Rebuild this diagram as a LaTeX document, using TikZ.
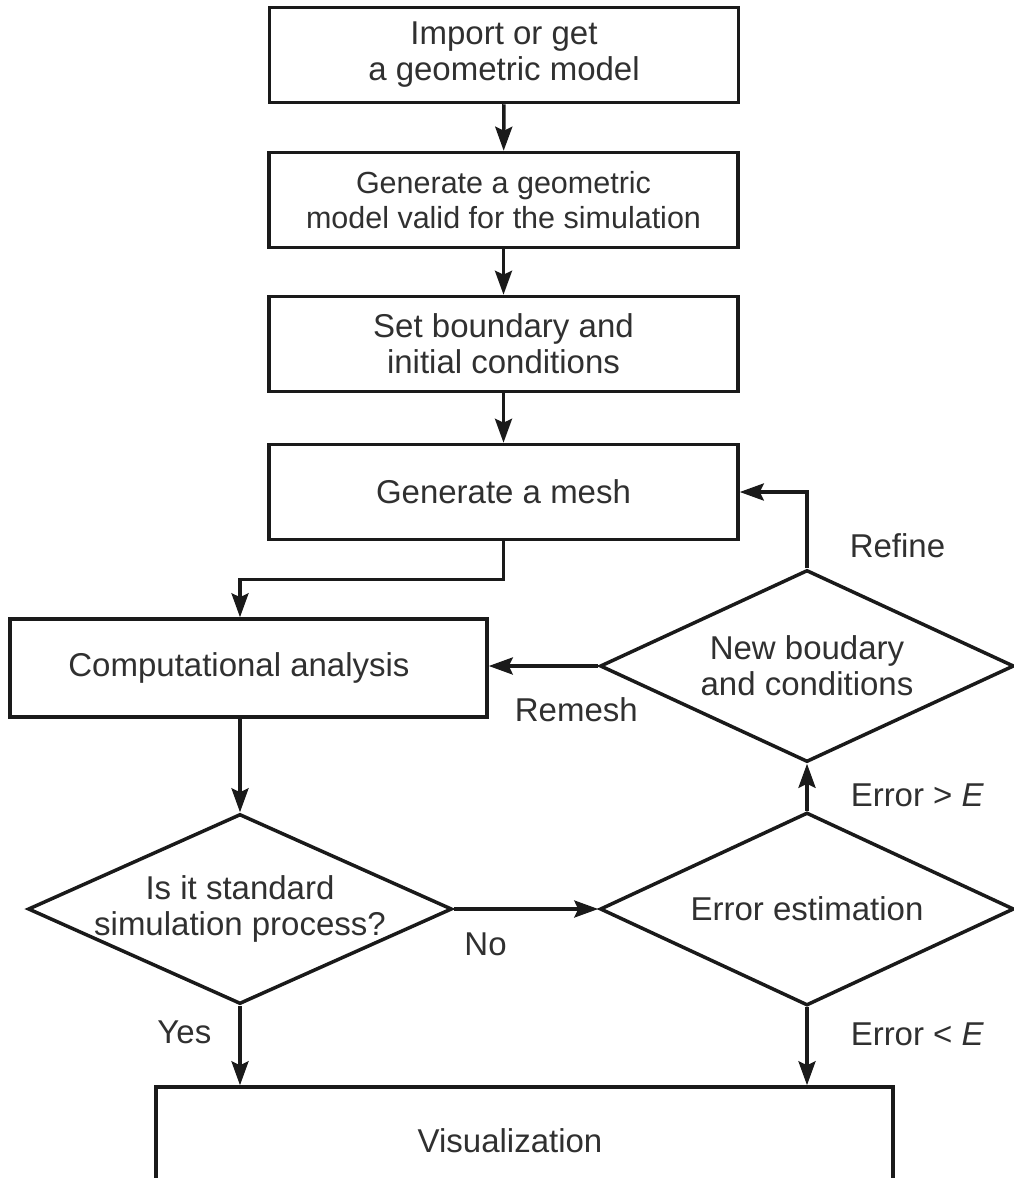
\documentclass[tikz,border=0pt]{standalone}
\usepackage{fontspec}
\setmainfont{Liberation Sans}
\usetikzlibrary{shapes.geometric,arrows.meta}
\definecolor{ln}{HTML}{1A1A1A}
\definecolor{txt}{HTML}{303030}
\begin{document}
\begin{tikzpicture}[x=1pt,y=-1pt,
  box/.style={draw=ln,line width=3.5pt,minimum width=469pt,minimum height=95pt,inner sep=0pt,align=center,text=txt,font=\fontsize{33}{36}\selectfont},
  dia/.style={draw=ln,line width=3.5pt,diamond,inner sep=0pt},
  dtext/.style={align=center,text=txt,font=\fontsize{33}{36}\selectfont,inner sep=0pt},
  lbl/.style={text=txt,font=\fontsize{33}{36}\selectfont,inner sep=0pt},
  conn/.style={draw=ln,line width=3.5pt,-{Stealth[length=24pt,width=17pt,inset=4pt]}}]
\useasboundingbox (0,0) rectangle (1014,1178);
\clip (0,0) rectangle (1014,1178);
\fill[white] (0,0) rectangle (1014,1178);
\node[box] (b1) at (504,55) {Import or get\\a geometric model};
\node[box,font=\fontsize{30.5}{35}\selectfont] (b2) at (503.5,200) {Generate a geometric\\model valid for the simulation};
\node[box] (b3) at (503.5,344) {Set boundary and\\initial conditions};
\node[box] (b4) at (503.5,492) {Generate a mesh};
\node[box,minimum width=477pt,minimum height=98pt] (b5) at (248.5,668) {\hspace*{-19pt}Computational analysis};
\node[dia,minimum width=424pt,minimum height=190pt] (d1) at (240,909) {};
\node[dtext] (d1t) at (d1.center) {Is it standard\\simulation process?};
\node[dia,minimum width=414pt,minimum height=193pt] (d2) at (807,909) {};
\node[dtext] (d2t) at (d2.center) {Error estimation};
\node[dia,minimum width=414pt,minimum height=192pt] (d3) at (807,666) {};
\node[dtext] (d3t) at (d3.center) {New boudary\\and conditions};
\node[box,minimum width=737pt,minimum height=108pt] (vis) at (524.5,1141) {\hspace*{-29pt}Visualization};
\draw[conn] (b1) -- (b2);
\draw[conn] (b2) -- (b3);
\draw[conn] (b3) -- (b4);
\coordinate (t1) at (d1.north |- b5.north);
\coordinate (t2) at (d1.south |- vis.north);
\coordinate (t3) at (d2.south |- vis.north);
\draw[conn] (b4.south) -- ++(0,38) -| (t1);
\draw[conn] (d1.north |- b5.south) -- (d1.north);
\draw[conn] (d1.east) -- node[lbl,pos=0.22,below=22pt] {No} (d2.west);
\draw[conn] (d2.north) -- node[lbl,pos=0.33,right=42pt] {Error > \textit{E}} (d3.south);
\draw[conn] (d3.north) |- node[lbl,pos=0.15,right=41pt] {Refine} (b4.east);
\draw[conn] (d3.west) -- node[lbl,below=30pt,pos=0.2] {Remesh} (d3.west -| b5.east);
\draw[conn] (d1.south) -- node[lbl,pos=0.33,left=27pt] {Yes} (t2);
\draw[conn] (d2.south) -- node[lbl,pos=0.35,right=42pt] {Error < \textit{E}} (t3);
\end{tikzpicture}
\end{document}
